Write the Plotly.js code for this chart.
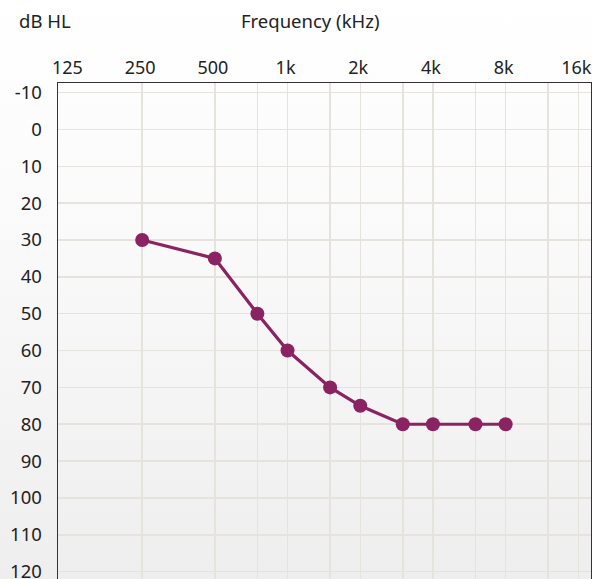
<!DOCTYPE html>
<html>
<head>
<meta charset="utf-8">
<script src="https://cdn.plot.ly/plotly-3.0.1.min.js"></script>
<style>
html, body { margin: 0; padding: 0; width: 592px; height: 579px; overflow: hidden;
  background: linear-gradient(to bottom, #ffffff 0%, #fafafa 40%, #eeeeee 100%); }
#chart { width: 592px; height: 579px; }
</style>
</head>
<body>
<div id="chart"></div>
<script>
// Data
const freqs = [250, 500, 750, 1000, 1500, 2000, 3000, 4000, 6000, 8000];
const thresholds = [30, 35, 50, 60, 70, 75, 80, 80, 80, 80];
// Axis labels
const labelFreqs = [125, 250, 500, 1000, 2000, 4000, 8000, 16000];
const labelText = ['125', '250', '500', '1k', '2k', '4k', '8k', '16k'];
const gridFreqs = [250, 500, 750, 1000, 1500, 2000, 3000, 4000, 6000, 8000, 12000, 16000];
const dbTicks = [-10, 0, 10, 20, 30, 40, 50, 60, 70, 80, 90, 100, 110, 120];
const dbText = ['-10', '0', '10', '20', '30', '40', '50', '60', '70', '80', '90', '100', '110', '120'];

const lineColor = '#8a2361';
const fontFam = '"Noto Sans", "Open Sans", sans-serif';
const fs = 18.5;
const xRange = [2.0494, 4.2566];

const traces = [
  {
    x: freqs, y: thresholds, type: 'scatter', mode: 'lines+markers',
    line: { color: lineColor, width: 3.2 },
    marker: { color: lineColor, size: 14 },
    hoverinfo: 'x+y', xaxis: 'x', yaxis: 'y'
  },
  {
    x: labelFreqs, y: labelFreqs.map(() => null), type: 'scatter', mode: 'markers',
    xaxis: 'x2', yaxis: 'y', hoverinfo: 'skip', showlegend: false
  }
];

const layout = {
  width: 592, height: 579,
  margin: { l: 58, r: 1, t: 83, b: 0, pad: 0 },
  paper_bgcolor: 'rgba(0,0,0,0)',
  plot_bgcolor: 'rgba(0,0,0,0)',
  showlegend: false,
  font: { family: fontFam, size: fs, color: '#222222' },
  xaxis: {
    type: 'log', range: xRange, side: 'top',
    tickmode: 'array', tickvals: gridFreqs, showticklabels: false,
    showgrid: true, gridcolor: '#e6e3df', gridwidth: 1.5,
    showline: true, linecolor: '#333333', linewidth: 1.5,
    ticks: '', zeroline: false, fixedrange: true
  },
  xaxis2: {
    type: 'log', range: xRange, side: 'top', overlaying: 'x', anchor: 'y',
    tickmode: 'array', tickvals: labelFreqs, ticktext: labelText,
    showgrid: false, showline: false, ticks: '', zeroline: false,
    ticklabelstandoff: 4, ticklabeloverflow: 'allow', ticklabelshift: -2,
    tickfont: { family: fontFam, size: 18, color: '#222222' }
  },
  yaxis: {
    range: [122, -12.6], tickmode: 'array', tickvals: dbTicks, ticktext: dbText,
    showgrid: true, gridcolor: '#e6e3df', gridwidth: 1.5,
    showline: true, linecolor: '#333333', linewidth: 1.5, mirror: true,
    ticks: '', zeroline: false, ticklabelstandoff: 11, ticklabeloverflow: 'allow',
    tickfont: { family: fontFam, size: fs, color: '#222222' }
  },
  annotations: [
    { text: 'dB HL', xref: 'paper', yref: 'paper', x: -0.076, y: 1, yshift: 63,
      xanchor: 'left', yanchor: 'middle', showarrow: false,
      font: { family: fontFam, size: fs, color: '#222222' } },
    { text: 'Frequency (kHz)', xref: 'paper', yref: 'paper', x: 0.474, y: 1, yshift: 63,
      xanchor: 'center', yanchor: 'middle', showarrow: false,
      font: { family: fontFam, size: fs, color: '#222222' } }
  ]
};

Plotly.newPlot('chart', traces, layout, { displayModeBar: false, staticPlot: true });
</script>
</body>
</html>
